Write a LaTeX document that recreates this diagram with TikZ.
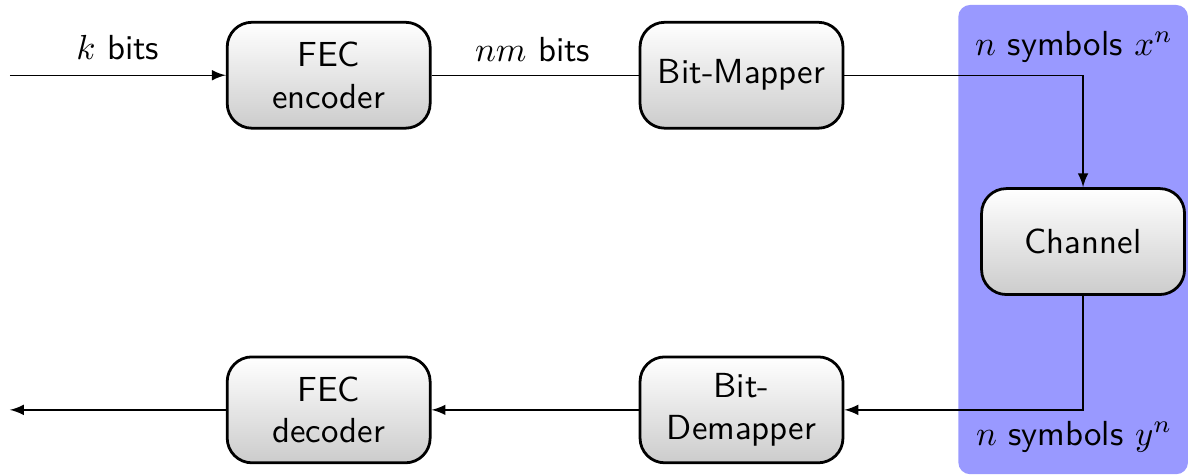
\documentclass[tikz,border=0pt]{standalone}
\usepackage{amsmath, amssymb}
\usetikzlibrary{shadings}

\begin{document}
\begin{tikzpicture}[
        font=\sffamily,
        block/.style={draw=black, thick, rounded corners=2.5mm, align=center,
                      minimum width=2.05cm, minimum height=1.07cm, inner sep=2pt,
                      top color=white, bottom color=black!20},
        link/.style={-latex}
        ]
        \useasboundingbox (0,0) rectangle (12,-4.808);
        % shaded channel region
        \fill [blue!40, rounded corners=1.2mm] (9.68,-0.05) rectangle (12.0,-4.79);
        % blocks
        \node [block] (enc) at (3.32,-0.76) {FEC\\encoder};
        \node [block] (map) at (7.49,-0.76) {Bit-Mapper};
        \node [block] (chan) at (10.94,-2.44) {Channel};
        \node [block] (demap) at (7.49,-4.14) {Bit-\\Demapper};
        \node [block] (dec) at (3.32,-4.14) {FEC\\decoder};
        \coordinate (src) at (0.1,-0.76);
        \coordinate (sink) at (0.1,-4.14);
        % connectors
        \draw [link] (src) -- (enc);
        \draw (enc) -- (map);
        \draw [link] (map) -- (map -| chan) -- (chan);
        \draw [link] (chan) -- (chan |- demap) -- (demap);
        \draw [link] (demap) -- (dec);
        \draw [link] (dec) -- (sink);
        % labels
        \node (kbits) at (1.19,-0.48) {$k$ bits};
        \node (nmbits) at (5.38,-0.50) {$nm$ bits};
        \node (xsym) at (10.85,-0.47) {$n$ symbols $x^n$};
        \node (ysym) at (10.85,-4.41) {$n$ symbols $y^n$};
\end{tikzpicture}
\end{document}
